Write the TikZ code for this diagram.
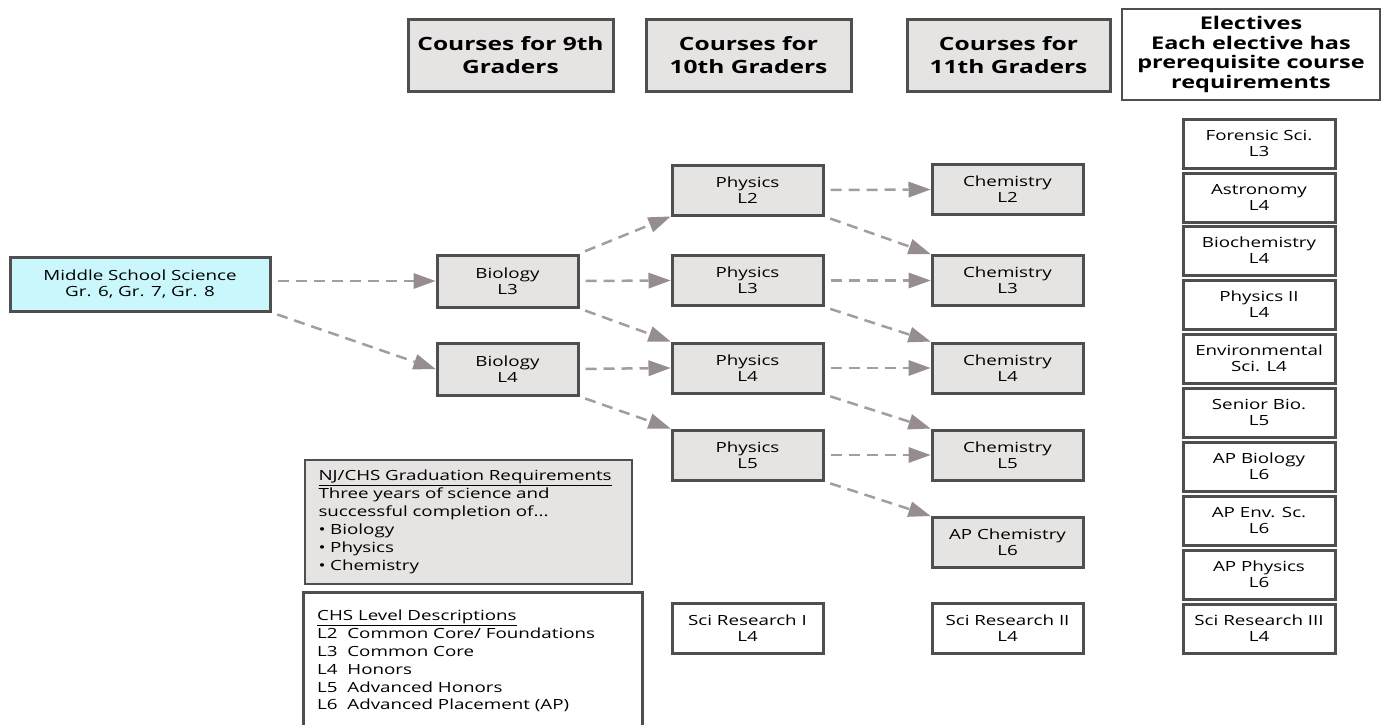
\documentclass[tikz,border=0pt]{standalone}
\usepackage{fontspec}
\setmainfont{Open Sans}[FakeStretch=1.34]
\usetikzlibrary{arrows.meta}
\definecolor{boxgray}{HTML}{E6E3E3}
\definecolor{edgecol}{HTML}{4F4F4F}
\definecolor{cyanfill}{HTML}{C9F7FC}
\definecolor{arrgray}{HTML}{A39E9E}
\definecolor{headgray}{HTML}{968E8E}
\begin{document}
\begin{tikzpicture}[x=1pt,y=-1pt,
  base/.style={draw=edgecol, line width=3pt, inner sep=0pt, align=center,
    font=\fontsize{14}{16}\selectfont},
  course/.style={base, fill=boxgray, minimum width=151pt, minimum height=50pt},
  biobox/.style={base, fill=boxgray, minimum width=141pt, minimum height=52pt},
  plainbox/.style={base, fill=white, minimum width=151pt, minimum height=50pt},
  elect/.style={base, fill=white, minimum width=152pt, minimum height=49pt},
  header/.style={base, fill=boxgray, minimum width=205pt, minimum height=71pt,
    font=\fontsize{18.3}{23}\selectfont\bfseries},
  arr/.style={draw=arrgray, line width=2.5pt, dash pattern=on 11pt off 7pt,
    -{Triangle[length=22pt,width=16pt,color=headgray,line width=0pt]},
    shorten <=6pt}
]
\useasboundingbox (0,0) rectangle (1381,725);
\fill[white] (0,0) rectangle (1381,725);

% headers
\node[header] (h9) at (510.5,55.5) {Courses for 9th\\Graders};
\node[header] (h10) at (748.5,55.5) {Courses for\\10th Graders};
\node[header, minimum width=203pt] (h11) at (1008.5,55.5) {Courses for\\11th Graders};
\node[base, fill=white, line width=1.5pt, minimum width=258pt, minimum height=91pt,
  font=\fontsize{17.5}{19.6}\selectfont\bfseries] (hel) at (1251,54.5)
  {Electives\\Each elective has\\prerequisite course\\requirements};

% middle school
\node[base, fill=cyanfill, minimum width=260pt, minimum height=54pt] (ms) at (140,284)
  {Middle School Science\\Gr. 6, Gr. 7, Gr. 8};

% biology
\node[biobox] (bio3) at (507.5,281) {Biology\\L3};
\node[biobox] (bio4) at (507.5,369) {Biology\\L4};

% physics
\node[course] (ph2) at (747.5,190) {Physics\\L2};
\node[course] (ph3) at (747.5,280.5) {Physics\\L3};
\node[course] (ph4) at (747.5,368) {Physics\\L4};
\node[course] (ph5) at (747.5,455) {Physics\\L5};

% chemistry
\node[course] (ch2) at (1007.5,189.5) {Chemistry\\L2};
\node[course] (ch3) at (1007.5,280.5) {Chemistry\\L3};
\node[course] (ch4) at (1007.5,368) {Chemistry\\L4};
\node[course] (ch5) at (1007.5,455) {Chemistry\\L5};
\node[course] (apch) at (1007.5,542.5) {AP Chemistry\\L6};

% research
\node[plainbox] (sr1) at (747.5,628.5) {Sci Research I\\L4};
\node[plainbox] (sr2) at (1007.5,628.5) {Sci Research II\\L4};

% electives
\node[elect] (e1) at (1259,143.5) {Forensic Sci.\\L3};
\node[elect] (e2) at (1259,197.5) {Astronomy\\L4};
\node[elect] (e3) at (1259,250.5) {Biochemistry\\L4};
\node[elect] (e4) at (1259,304.5) {Physics II\\L4};
\node[elect] (e5) at (1259,358.5) {Environmental\\Sci. L4};
\node[elect] (e6) at (1259,412.5) {Senior Bio.\\L5};
\node[elect] (e7) at (1259,466.5) {AP Biology\\L6};
\node[elect] (e8) at (1259,520.5) {AP Env. Sc.\\L6};
\node[elect] (e9) at (1259,574.5) {AP Physics\\L6};
\node[elect] (e10) at (1259,628.5) {Sci Research III\\L4};

% graduation requirements
\node[base, fill=boxgray, line width=2.5pt, align=left, text width=300pt,
  inner xsep=13.5pt, minimum height=124pt, font=\fontsize{14}{18}\selectfont] (nj) at (468.5,522)
  {\underline{NJ/CHS Graduation Requirements}\\
   Three years of science and\\
   successful completion of...\\
   \textbullet\ Biology\\
   \textbullet\ Physics\\
   \textbullet\ Chemistry};

% level descriptions
\node[draw=edgecol, line width=2.5pt, fill=white, minimum width=339pt, minimum height=160pt,
  inner sep=0pt, anchor=north west] (chsbox) at (302,591) {};
\node[inner sep=0pt, anchor=north west, align=left,
  font=\fontsize{14}{17.8}\selectfont] (chstext) at (317,610)
  {\underline{CHS Level Descriptions}\\
   L2\ \ Common Core/ Foundations\\
   L3\ \ Common Core\\
   L4\ \ Honors\\
   L5\ \ Advanced Honors\\
   L6\ \ Advanced Placement (AP)};

% connectors
\draw[arr] (ms.east |- bio3.west) -- (bio3.west);
\draw[arr] (ms.south east) -- (bio4.west);
\draw[arr] (bio3.north east) -- (ph2.south west);
\draw[arr] (bio3.east) -- (ph3.west);
\draw[arr] (bio3.south east) -- (ph4.north west);
\draw[arr] (bio4.east) -- (ph4.west);
\draw[arr] (bio4.south east) -- (ph5.north west);
\draw[arr] (ph2.east) -- (ch2.west);
\draw[arr] (ph2.south east) -- (ch3.north west);
\draw[arr] (ph3.east) -- (ch3.west);
\draw[arr] (ph3.south east) -- (ch4.north west);
\draw[arr] (ph4.east) -- (ch4.west);
\draw[arr] (ph4.south east) -- (ch5.north west);
\draw[arr] (ph5.east) -- (ch5.west);
\draw[arr] (ph5.south east) -- (apch.north west);
\end{tikzpicture}
\end{document}
